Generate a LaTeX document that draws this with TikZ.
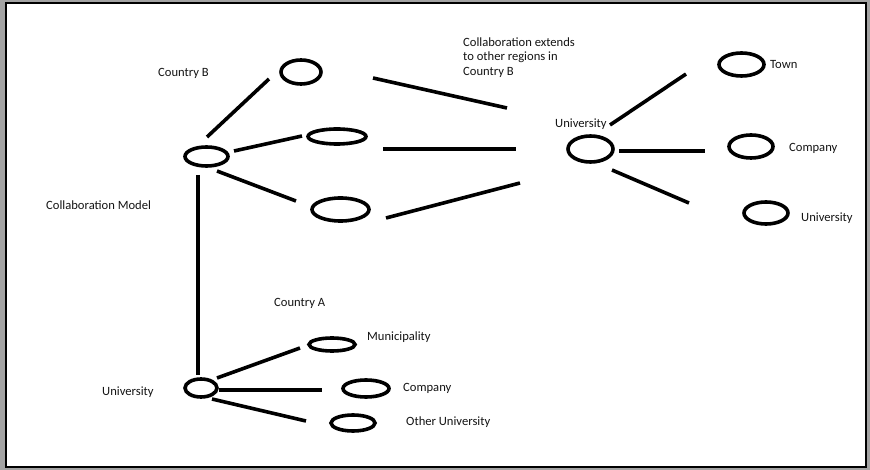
\documentclass[tikz,border=0pt]{standalone}
\usepackage{fontspec}
\setmainfont{Carlito}
\usetikzlibrary{shapes.geometric}
\definecolor{framegray}{gray}{0.64}
\definecolor{ink}{gray}{0.08}
\begin{document}
\begin{tikzpicture}[x=1pt,y=-1pt,
  ring/.style={draw=black,ellipse,line width=3.6pt,inner sep=0pt},
  link/.style={draw=black,line width=3.6pt},
  lbl/.style={anchor=base west,inner sep=0pt,text=ink,font=\fontsize{12.6}{14.5}\selectfont}]
\useasboundingbox (0,0) rectangle (870,470);
% the window frame
\fill[framegray] (0,0) rectangle (870,470);
\draw[fill=white,line width=2pt] (5.7,3.3) rectangle (866,467);
% country B
\node[ring,minimum width=43pt,minimum height=19pt] (b0) at (206.5,156.5) {};
\node[ring,minimum width=40pt,minimum height=24pt] (b1) at (301,72) {};
\node[ring,minimum width=58pt,minimum height=15pt] (b2) at (337,136.5) {};
\node[ring,minimum width=57pt,minimum height=23pt] (b3) at (340.5,209.5) {};
% the university in the other region
\node[ring,minimum width=45pt,minimum height=26pt] (ub) at (590.5,149) {};
\node[ring,minimum width=45pt,minimum height=23pt] (town) at (741.5,64.5) {};
\node[ring,minimum width=44pt,minimum height=23pt] (compb) at (751,146.5) {};
\node[ring,minimum width=44pt,minimum height=22pt] (unib) at (766,213) {};
% country A
\node[ring,minimum width=32pt,minimum height=18pt] (ua) at (201,388) {};
\node[ring,minimum width=46pt,minimum height=13pt] (muni) at (332,344.5) {};
\node[ring,minimum width=46pt,minimum height=17pt] (compa) at (366,388.5) {};
\node[ring,minimum width=44pt,minimum height=16pt] (othera) at (353,423) {};
% the loose ends of the lines
\coordinate (b0-b1) at (207,137);   \coordinate (b1-b0) at (269,79);
\coordinate (b0-b2) at (234,151);   \coordinate (b2-b0) at (302,136);
\coordinate (b0-b3) at (217,171);   \coordinate (b3-b0) at (296,201);
\coordinate (b1-ub) at (373,78);    \coordinate (ub-b1) at (507,108);
\coordinate (b2-ub) at (383,149);   \coordinate (ub-b2) at (516,149);
\coordinate (b3-ub) at (386,218);   \coordinate (ub-b3) at (520,183);
\coordinate (b0-ua) at (198,175);   \coordinate (ua-b0) at (198,375);
\coordinate (ub-town) at (610,125); \coordinate (town-ub) at (686,74);
\coordinate (ub-compb) at (619,151);\coordinate (compb-ub) at (705,151);
\coordinate (ub-unib) at (612,170); \coordinate (unib-ub) at (689,203);
\coordinate (ua-muni) at (217,378); \coordinate (muni-ua) at (300,348);
\coordinate (ua-compa) at (219,390);\coordinate (compa-ua) at (322,390);
\coordinate (ua-othera) at (212,399);\coordinate (othera-ua) at (306,421);
% the lines
\foreach \s/\t in {b0/b1,b0/b2,b0/b3,b1/ub,b2/ub,b3/ub,b0/ua,ub/town,ub/compb,ub/unib,ua/muni,ua/compa,ua/othera}
  \draw[link] (\s-\t) -- (\t-\s);
% the labels
\node[lbl] (lcountryb) at (158,77) {Country B};
\node[lbl] (lmodel) at (46,210) {Collaboration Model};
\node[lbl,anchor=north west,align=left] (lextends) at (463,37.5) {Collaboration extends\\to other regions in\\Country B};
\node[lbl] (lub) at (555,128) {University};
\node[lbl] (ltown) at (770,69) {Town};
\node[lbl] (lcompb) at (789,152) {Company};
\node[lbl] (lunib) at (801,222) {University};
\node[lbl] (lcountrya) at (274,307) {Country A};
\node[lbl] (lmuni) at (367,340) {Municipality};
\node[lbl] (lcompa) at (403,391) {Company};
\node[lbl] (lothera) at (406,425) {Other University};
\node[lbl] (lua) at (102,395) {University};
\end{tikzpicture}
\end{document}
